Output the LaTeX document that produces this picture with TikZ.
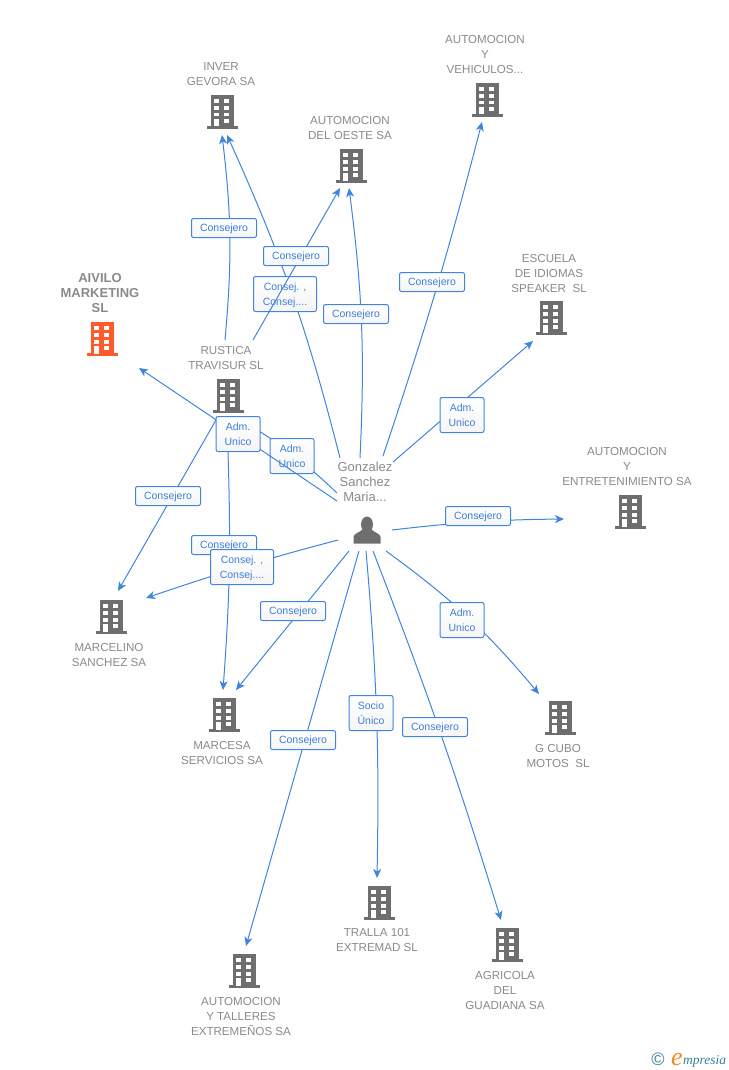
\documentclass[tikz,border=0pt]{standalone}
\usepackage{fontspec}
\setmainfont{Liberation Sans}
\newfontfamily\logofont{Liberation Serif}
\usetikzlibrary{arrows.meta}

\definecolor{linkblue}{HTML}{3F84DE}
\definecolor{tagblue}{HTML}{3E7FD8}
\definecolor{iconGray}{HTML}{6E6E6E}
\definecolor{nameGray}{HTML}{8A8A8A}
\definecolor{mainOrange}{HTML}{FF5A2B}
\definecolor{logoTeal}{HTML}{3C7F99}
\definecolor{logoOrange}{HTML}{F08A24}

\tikzset{
    link/.style={draw=linkblue, line width=1pt, -{Stealth[length=9pt,width=8pt,inset=2.5pt]}},
    tag/.style={draw=linkblue, line width=1pt, rounded corners=2pt, top color=white, bottom color=black!4,
        text=tagblue, font=\fontsize{10.5}{15}\selectfont, align=center, inner sep=0pt, text depth=0pt, minimum height=19pt},
    wide/.style={tag, minimum width=65pt},
    adm/.style={tag, minimum width=44pt, minimum height=35pt},
    cons/.style={tag, minimum width=63pt, minimum height=35pt},
    firm/.style={text=nameGray, font=\fontsize{11.6}{15}\selectfont, align=center, inner sep=0pt},
    bldg/.style={minimum width=32pt, minimum height=35pt, inner sep=0pt, path picture={
        \fill[#1] (-11,-17) rectangle (11.5,14.5);
        \fill[#1] (-15.5,14) rectangle (15.5,17);
        \foreach \wx in {-7.7,2.3} \foreach \wy in {-12.7,-5.6,0.7,7.3}
            \fill[white] (\wx,\wy) rectangle (\wx+5,\wy+3.8);
        \fill[white] (-7.7,10) rectangle (-2.7,14.5);}},
    bldg/.default=iconGray,
    person/.style={minimum width=28pt, minimum height=28pt, inner sep=0pt, path picture={
        \fill[iconGray] (0,-5.5) ellipse (6 and 8);
        \fill[iconGray] (-13.5,13.5) -- (-13.5,7) .. controls (-13.5,3.5) and (-7,2.5) .. (-4,-1)
            -- (4,-1) .. controls (7,2.5) and (13.5,3.5) .. (13.5,7) -- (13.5,13.5) -- cycle;}}
}

\begin{document}
\begin{tikzpicture}[x=1pt, y=-1pt]
    \useasboundingbox (0,0) rectangle (728,1070);

    % buildings
    \node[bldg] (inver) at (222,112) {};
    \node[bldg] (oeste) at (351,166) {};
    \node[bldg] (vehiculos) at (487,100) {};
    \node[bldg] (escuela) at (551,318) {};
    \node[bldg] (entret) at (630,512) {};
    \node[bldg=mainOrange] (aivilo) at (102,339) {};
    \node[bldg] (rustica) at (228,396) {};
    \node[bldg] (marcelino) at (111,617) {};
    \node[bldg] (marcesa) at (224,715) {};
    \node[bldg] (gcubo) at (560,718) {};
    \node[bldg] (tralla) at (379,903) {};
    \node[bldg] (agricola) at (507,945) {};
    \node[bldg] (talleres) at (244,971) {};
    \node[person] (gonzalez) at (367,530) {};

    % names
    \node[firm] (ninver) at (221,74) {INVER\\GEVORA SA};
    \node[firm] (noeste) at (350,128) {AUTOMOCION\\DEL OESTE SA};
    \node[firm] (nvehiculos) at (485,54.5) {AUTOMOCION\\Y\\VEHICULOS...};
    \node[firm] (nescuela) at (549,273.5) {ESCUELA\\DE IDIOMAS\\SPEAKER\ \ SL};
    \node[firm] (nentret) at (627,466.5) {AUTOMOCION\\Y\\ENTRETENIMIENTO SA};
    \node[firm, font=\fontsize{13}{15}\selectfont\bfseries] (naivilo) at (100,293) {AIVILO\\MARKETING\\SL};
    \node[firm] (nrustica) at (226,358) {RUSTICA\\TRAVISUR SL};
    \node[firm] (nmarcelino) at (109,654.5) {MARCELINO\\SANCHEZ SA};
    \node[firm] (nmarcesa) at (222,753) {MARCESA\\SERVICIOS SA};
    \node[firm] (ngcubo) at (558,756) {G CUBO\\MOTOS\ \ SL};
    \node[firm] (ntralla) at (377,940) {TRALLA 101\\EXTREMAD SL};
    \node[firm] (nagricola) at (505,990.5) {AGRICOLA\\DEL\\GUADIANA SA};
    \node[firm] (ntalleres) at (241,1016.5) {AUTOMOCION\\Y TALLERES\\EXTREMEÑOS SA};
    \node[firm, font=\fontsize{13}{15}\selectfont] (ngonzalez) at (365,482) {Gonzalez\\Sanchez\\Maria...};

    % connectors, each one with its tag
    \draw[link] ([shift={(-3,-56)}]rustica.center) to[bend right=6] ([shift={(0,23)}]inver.center);
    \node[wide] (t1) at (224,228) {Consejero};
    \draw[link] ([shift={(-27,-72)}]gonzalez.center) to[bend right=5] ([shift={(5,23)}]inver.center);
    \node[cons] (t2) at (285,294) {Consej. ,\\Consej....};
    \draw[link] ([shift={(25,-56)}]rustica.center) -- ([shift={(-11,22)}]oeste.center);
    \node[wide] (t3) at (296,256) {Consejero};
    \draw[link] ([shift={(-7,-72)}]gonzalez.center) to[bend right=5] ([shift={(-2,22)}]oeste.center);
    \node[wide] (t4) at (356,314) {Consejero};
    \draw[link] ([shift={(16,-74)}]gonzalez.center) to[bend right=2] ([shift={(-5,22)}]vehiculos.center);
    \node[wide] (t5) at (432,282) {Consejero};
    \draw[link] ([shift={(26,-68)}]gonzalez.center) -- ([shift={(-18,23)}]escuela.center);
    \node[adm] (t6) at (462,415) {Adm.\\Unico};
    \draw[link] ([shift={(25,0)}]gonzalez.center) to[bend left=3] ([shift={(-66,7)}]entret.center);
    \node[wide] (t7) at (478,516) {Consejero};
    \draw[link] ([shift={(19,21)}]gonzalez.center) to[bend left=7] ([shift={(-21,-24)}]gcubo.center);
    \node[adm] (t8) at (462,620) {Adm.\\Unico};
    \draw[link] ([shift={(6,21)}]gonzalez.center) to[bend left=2] ([shift={(-6,-25)}]agricola.center);
    \node[wide] (t9) at (435,727) {Consejero};
    \draw[link] ([shift={(-1,21)}]gonzalez.center) to[bend left=3] ([shift={(-2,-25)}]tralla.center);
    \node[adm] (t10) at (371,713) {Socio\\Único};
    \draw[link] ([shift={(-8,21)}]gonzalez.center) -- ([shift={(2,-25)}]talleres.center);
    \node[wide] (t11) at (303,740) {Consejero};
    \draw[link] ([shift={(-18,21)}]gonzalez.center) -- ([shift={(12,-25)}]marcesa.center);
    \node[wide] (t12) at (293,611) {Consejero};
    \draw[link] ([shift={(0,56)}]rustica.center) to[bend left=3] ([shift={(-1,-25)}]marcesa.center);
    \node[wide] (t13) at (224,545) {Consejero};
    \draw[link] ([shift={(-29,10)}]gonzalez.center) to[bend right=2] ([shift={(35,-19)}]marcelino.center);
    \node[cons] (t14) at (242,567) {Consej. ,\\Consej....};
    \draw[link] ([shift={(-12,24)}]rustica.center) -- ([shift={(7,-26)}]marcelino.center);
    \node[wide] (t15) at (168,496) {Consejero};
    \draw[link] ([shift={(-30,-37)}]gonzalez.center) to[bend right=6] ([shift={(18,27)}]rustica.center);
    \node[adm] (t16) at (292,456) {Adm.\\Unico};
    \draw[link] ([shift={(-30,-29)}]gonzalez.center) -- ([shift={(37,29)}]aivilo.center);
    \node[adm] (t17) at (238,434) {Adm.\\Unico};

    % logo
    \node[text=logoTeal, font=\fontsize{18}{18}\selectfont, inner sep=0pt] (lcopy) at (658,1059) {©};
    \node[text=logoOrange, font=\logofont\itshape\fontsize{26}{26}\selectfont, inner sep=0pt, anchor=base] (le) at (677,1065) {e};
    \node[text=logoTeal, font=\logofont\itshape\fontsize{13.5}{13.5}\selectfont, inner sep=0pt, anchor=base west] (lmp) at (683,1064) {mpresia};
\end{tikzpicture}
\end{document}
